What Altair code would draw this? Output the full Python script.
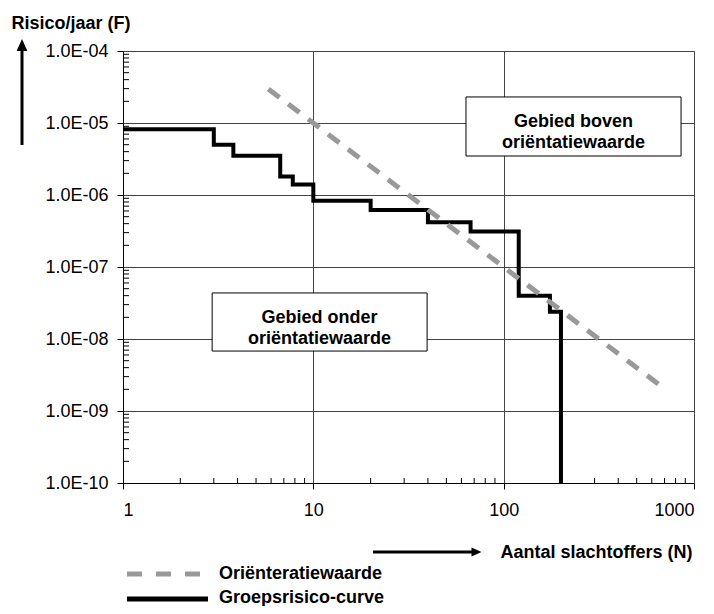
import json
import altair as alt
import pandas as pd

# ---------------- data ----------------
# Groepsrisico-curve (step curve)
gr_n = [1, 3, 3.8, 6.7, 7.8, 10, 20, 40, 67, 120, 175, 200]
gr_f = [8.2e-6, 5.0e-6, 3.5e-6, 1.8e-6, 1.4e-6, 8.3e-7, 6.2e-7, 4.2e-7, 3.1e-7, 4.0e-8, 2.4e-8, 1e-10]

# Oriënteratiewaarde (dashed line)
ow_n = [5.8, 690]
ow_f = [2.97e-5, 2.1e-9]

# axes
x_ticks = [1, 10, 100, 1000]
y_ticks = [1e-10, 1e-9, 1e-8, 1e-7, 1e-6, 1e-5, 1e-4]
y_labels = ["1.0E-10", "1.0E-09", "1.0E-08", "1.0E-07", "1.0E-06", "1.0E-05", "1.0E-04"]
minor_mult = [2, 3, 4, 5, 6, 7, 8, 9]
x_minor = [m * d for d in [1, 10, 100] for m in minor_mult]
y_minor = [m * d for d in y_ticks[:-1] for m in minor_mult]

# annotation boxes (data coordinates)
box_labels = ["Gebied boven\noriëntatiewaarde", "Gebied onder\noriëntatiewaarde"]
box_n1 = [63.4, 2.94]
box_n2 = [855, 39.6]
box_f1 = [2.3e-5, 4.36e-8]
box_f2 = [3.48e-6, 6.8e-9]
box_tn = [233, 10.78]
box_tf = [1.03e-5, 1.93e-8]

legend_labels = ["Oriënteratiewaarde", "Groepsrisico-curve"]

# ---------------- chart ----------------
W, H = 571, 432
FONT = "Liberation Sans"
xs = alt.Scale(type="log", domain=[1, 1000])
ys = alt.Scale(type="log", domain=[1e-10, 1e-4])

gr_df = pd.DataFrame({"N": gr_n, "F": gr_f})
ow_df = pd.DataFrame({"N": ow_n, "F": ow_f})
box_df = pd.DataFrame({"label": box_labels, "n1": box_n1, "n2": box_n2,
                       "f1": box_f1, "f2": box_f2, "tn": box_tn, "tf": box_tf})
one = alt.Data(values=[{"a": 1}])

y_label_expr = json.dumps(y_labels) + "[round(log(datum.value)/LN10)+10]"

x_axis = alt.Axis(values=x_ticks, format="d", grid=True, gridColor="#444444", gridWidth=1,
                  tickSize=6, tickColor="black", domainColor="black", labelColor="black",
                  labelFont=FONT, labelFontSize=18, labelPadding=12,
                  title="Aantal slachtoffers (N)", titleFont=FONT, titleFontSize=18,
                  titleFontWeight="bold", titleColor="black", titleAlign="left",
                  titleBaseline="middle", titleX=377, titleY=69)
y_axis = alt.Axis(values=y_ticks, labelExpr=y_label_expr, grid=True, gridColor="#444444",
                  gridWidth=1, tickSize=6, tickColor="black", domainColor="black",
                  labelColor="black", labelFont=FONT, labelFontSize=18, labelPadding=9,
                  title="Risico/jaar (F)", titleFont=FONT, titleFontSize=18,
                  titleFontWeight="bold", titleColor="black", titleAngle=0,
                  titleAlign="left", titleBaseline="middle", titleX=-112, titleY=-28)


def X(field):
    return alt.X(field, type="quantitative", scale=xs, axis=x_axis)


def Y(field):
    return alt.Y(field, type="quantitative", scale=ys, axis=y_axis)


curve = alt.Chart(gr_df).mark_line(interpolate="step-after", color="black", strokeWidth=4,
                                   strokeJoin="miter", strokeCap="butt").encode(
    x=X("N"), y=Y("F"))

orient = alt.Chart(ow_df).mark_line(color="#999999", strokeWidth=5, strokeDash=[14, 11],
                                    strokeCap="butt").encode(x=X("N"), y=Y("F"))

xminor = alt.Chart(pd.DataFrame({"N": x_minor})).mark_rule(color="black", strokeWidth=1).encode(
    x=X("N"), y=alt.value(H - 5), y2=alt.value(H))
yminor = alt.Chart(pd.DataFrame({"F": y_minor})).mark_rule(color="black", strokeWidth=1).encode(
    y=Y("F"), x=alt.value(0), x2=alt.value(6))

boxes = alt.Chart(box_df).mark_rect(fill="white", stroke="black", strokeWidth=1).encode(
    x=X("n1"), x2="n2:Q", y=Y("f1"), y2="f2:Q")
box_text = alt.Chart(box_df).mark_text(font=FONT, fontSize=18, fontWeight="bold", color="black",
                                       lineBreak="\n", lineHeight=21, align="center",
                                       baseline="middle").encode(
    x=X("tn"), y=Y("tf"), text="label:N")

# arrows
up_line = alt.Chart(one).mark_rule(color="black", strokeWidth=3).encode(
    x=alt.value(-101), y=alt.value(94), y2=alt.value(-1))
up_head = alt.Chart(one).mark_point(shape="M0,-1L0.9,1L-0.9,1Z", filled=True, fill="black",
                                    strokeWidth=0, size=144, opacity=1).encode(
    x=alt.value(-101), y=alt.value(-6))
right_line = alt.Chart(one).mark_rule(color="black", strokeWidth=3).encode(
    x=alt.value(250), x2=alt.value(350), y=alt.value(501))
right_head = alt.Chart(one).mark_point(shape="M1,0L-1,-0.9L-1,0.9Z", filled=True, fill="black",
                                       strokeWidth=0, size=100, opacity=1).encode(
    x=alt.value(353.5), y=alt.value(501))

# legend
leg_dash = alt.Chart(one).mark_rule(color="#999999", strokeWidth=5, strokeDash=[15, 14]).encode(
    x=alt.value(4), x2=alt.value(82), y=alt.value(523))
leg_solid = alt.Chart(one).mark_rule(color="black", strokeWidth=5).encode(
    x=alt.value(4), x2=alt.value(85), y=alt.value(548))
leg_t1 = alt.Chart(one).mark_text(font=FONT, fontSize=18, fontWeight="bold", color="black",
                                  align="left", baseline="middle").encode(
    x=alt.value(96), y=alt.value(523), text=alt.value(legend_labels[0]))
leg_t2 = alt.Chart(one).mark_text(font=FONT, fontSize=18, fontWeight="bold", color="black",
                                  align="left", baseline="middle").encode(
    x=alt.value(96), y=alt.value(547), text=alt.value(legend_labels[1]))

chart = alt.layer(
    curve, orient, xminor, yminor, boxes, box_text,
    up_line, up_head, right_line, right_head,
    leg_dash, leg_solid, leg_t1, leg_t2,
).properties(
    width=W, height=H,
    autosize=alt.AutoSizeParams(type="none"),
    padding={"left": 115, "top": 43, "right": 12, "bottom": 123},
).configure_view(stroke="black", strokeWidth=1).configure(background="white")

chart.save("out.html", embed_options={"renderer": "svg", "actions": False})
